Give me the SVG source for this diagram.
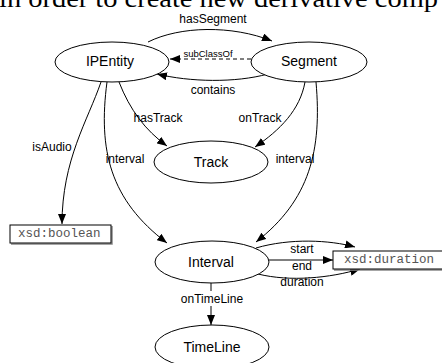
<svg xmlns="http://www.w3.org/2000/svg" width="442" height="363" viewBox="0 0 442 363">
  <defs>
    <marker id="arrow" viewBox="0 0 10 8" refX="10" refY="4" markerWidth="10" markerHeight="8" markerUnits="userSpaceOnUse" orient="auto">
      <path d="M0,0 L10,4 L0,8 z" fill="#000"/>
    </marker>
    <style>
      .node ellipse { fill: #fff; stroke: #000; stroke-width: 1; }
      .node text { font-family: "Liberation Sans", Arial, sans-serif; font-size: 14px; text-anchor: middle; dominant-baseline: central; fill: #000; }
      .lit rect { fill: #fff; stroke: #000; stroke-width: 1; }
      .lit .shadow { fill: none; stroke: #888; stroke-width: 1.5; }
      .lit text { font-family: "Liberation Mono", "Courier New", monospace; font-size: 12.5px; fill: #555; dominant-baseline: central; }
      .edge { fill: none; stroke: #000; stroke-width: 1; marker-end: url(#arrow); }
      .dashed { stroke-dasharray: 4,3; }
      .lbl { font-family: "Liberation Sans", Arial, sans-serif; font-size: 12px; fill: #000; text-anchor: middle; dominant-baseline: central; }
      .small { font-size: 9.5px; }
      .head { font-family: "Liberation Serif", "Times New Roman", serif; font-size: 26px; fill: #000; }
    </style>
  </defs>

  <rect width="442" height="363" fill="#fff"/>

  <!-- running text line above the figure -->
  <text class="head" x="-1" y="7" textLength="439" lengthAdjust="spacingAndGlyphs">in order to create new derivative comp</text>

  <!-- connectors -->
  <g id="connectors">
    <path class="edge" d="M148,42 C180,26 232,25 272,41"/>
    <path class="edge dashed" d="M251,59 L170,59"/>
    <path class="edge" d="M268,74 C235,83 190,82 157,74"/>
    <path class="edge" d="M101,82 C88,120 62,160 62,224"/>
    <path class="edge" d="M107,82 C98,150 110,200 167,243"/>
    <path class="edge" d="M119,82 C130,110 145,130 167,146"/>
    <path class="edge" d="M305,82 C300,110 280,130 255,147"/>
    <path class="edge" d="M316,82 C322,150 310,200 256,242"/>
    <path class="edge" d="M256,248 C290,238 330,240 355,247"/>
    <path class="edge" d="M269,260 L333,260"/>
    <path class="edge" d="M258,274 C290,282 330,278 360,269"/>
    <path class="edge" d="M211,283 L211,325"/>

    <text class="lbl" x="213" y="19">hasSegment</text>
    <rect x="184" y="47" width="48" height="11" fill="#fff"/>
    <text class="lbl small" x="208" y="53">subClassOf</text>
    <text class="lbl" x="213" y="90">contains</text>
    <text class="lbl" x="52" y="147">isAudio</text>
    <text class="lbl" x="125" y="159">interval</text>
    <text class="lbl" x="158" y="118">hasTrack</text>
    <text class="lbl" x="260" y="118">onTrack</text>
    <text class="lbl" x="295" y="159">interval</text>
    <text class="lbl" x="302" y="249">start</text>
    <text class="lbl" x="302" y="266">end</text>
    <text class="lbl" x="302" y="282">duration</text>
    <rect x="180" y="291" width="64" height="15" fill="#fff"/>
    <text class="lbl" x="212" y="299">onTimeLine</text>
  </g>

  <!-- class nodes -->
  <g id="ipentity" class="node">
    <ellipse cx="112" cy="62" rx="57" ry="20"/>
    <text x="110" y="61">IPEntity</text>
  </g>
  <g id="segment" class="node">
    <ellipse cx="309" cy="62" rx="58" ry="20"/>
    <text x="309" y="61">Segment</text>
  </g>
  <g id="track" class="node">
    <ellipse cx="211" cy="162" rx="57" ry="21"/>
    <text x="211" y="162">Track</text>
  </g>
  <g id="interval" class="node">
    <ellipse cx="212" cy="262" rx="57" ry="21"/>
    <text x="211" y="262">Interval</text>
  </g>
  <g id="timeline" class="node">
    <ellipse cx="212" cy="347" rx="57" ry="22"/>
    <text x="212" y="347">TimeLine</text>
  </g>

  <!-- datatype nodes -->
  <g id="xsd-boolean" class="lit">
    <path class="shadow" d="M11,244 L112,244 L112,226"/>
    <rect x="10" y="225" width="101" height="18"/>
    <text x="18" y="234">xsd:boolean</text>
  </g>
  <g id="xsd-duration" class="lit">
    <path class="shadow" d="M334,270 L443,270"/>
    <rect x="333" y="251" width="112" height="18"/>
    <text x="344" y="260">xsd:duration</text>
  </g>
</svg>
